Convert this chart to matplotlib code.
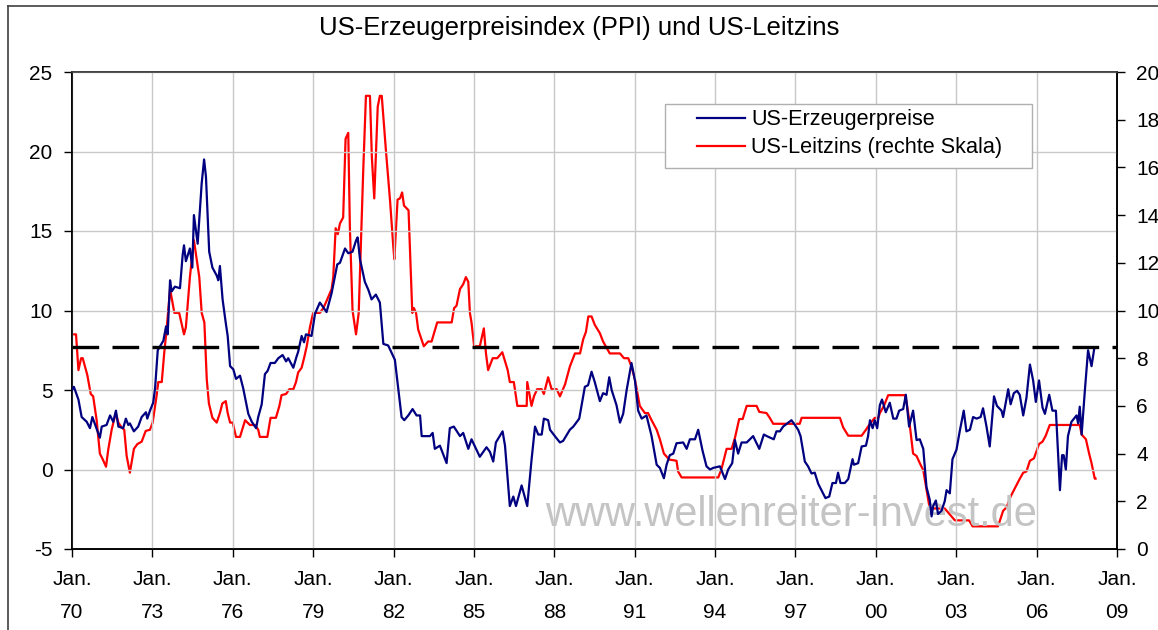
import matplotlib.pyplot as plt
from matplotlib.lines import Line2D
from matplotlib.patches import Rectangle

plt.rcParams['font.family'] = ['Liberation Sans', 'DejaVu Sans']
plt.rcParams['axes.unicode_minus'] = False

# US-Erzeugerpreise (PPI, Veränderung zum Vorjahr in %), linke Skala
ppi_dates = [1970.00, 1970.07, 1970.24, 1970.36, 1970.55, 1970.67, 1970.76, 1971.04, 1971.11, 1971.29,
             1971.42, 1971.54, 1971.64, 1971.73, 1971.91, 1972.01, 1972.10, 1972.16, 1972.31, 1972.47,
             1972.60, 1972.76, 1972.81, 1972.91, 1973.03, 1973.10, 1973.20, 1973.41, 1973.51, 1973.57,
             1973.66, 1973.72, 1973.84, 1974.03, 1974.13, 1974.18, 1974.25, 1974.40, 1974.49, 1974.55,
             1974.69, 1974.84, 1974.93, 1975.00, 1975.12, 1975.24, 1975.40, 1975.46, 1975.52, 1975.62,
             1975.74, 1975.81, 1975.90, 1976.02, 1976.12, 1976.27, 1976.39, 1976.58, 1976.71, 1976.87,
             1976.95, 1977.08, 1977.20, 1977.30, 1977.41, 1977.57, 1977.70, 1977.86, 1977.99, 1978.07,
             1978.26, 1978.38, 1978.44, 1978.57, 1978.66, 1978.73, 1978.94, 1979.07, 1979.25, 1979.38,
             1979.50, 1979.69, 1979.90, 1980.00, 1980.19, 1980.31, 1980.47, 1980.60, 1980.66, 1980.75,
             1980.93, 1981.06, 1981.18, 1981.34, 1981.49, 1981.62, 1981.80, 1982.05, 1982.18, 1982.30,
             1982.40, 1982.55, 1982.71, 1982.86, 1982.99, 1983.05, 1983.24, 1983.36, 1983.46, 1983.54,
             1983.73, 1983.98, 1984.10, 1984.25, 1984.48, 1984.60, 1984.79, 1984.91, 1985.22, 1985.47,
             1985.60, 1985.72, 1985.82, 1986.07, 1986.16, 1986.34, 1986.47, 1986.57, 1986.78, 1986.99,
             1987.15, 1987.28, 1987.40, 1987.53, 1987.61, 1987.77, 1987.84, 1988.02, 1988.21, 1988.33,
             1988.58, 1988.71, 1988.93, 1989.14, 1989.26, 1989.39, 1989.51, 1989.70, 1989.82, 1989.95,
             1990.05, 1990.14, 1990.32, 1990.45, 1990.57, 1990.70, 1990.88, 1991.01, 1991.13, 1991.26,
             1991.44, 1991.63, 1991.82, 1991.94, 1992.09, 1992.19, 1992.31, 1992.44, 1992.56, 1992.81,
             1992.94, 1993.06, 1993.25, 1993.37, 1993.53, 1993.68, 1993.81, 1993.93, 1994.18, 1994.37,
             1994.49, 1994.64, 1994.74, 1994.86, 1994.99, 1995.18, 1995.42, 1995.65, 1995.82, 1995.93,
             1996.19, 1996.29, 1996.42, 1996.54, 1996.85, 1996.98, 1997.10, 1997.19, 1997.35, 1997.47,
             1997.60, 1997.72, 1997.85, 1997.97, 1998.12, 1998.26, 1998.38, 1998.51, 1998.59, 1998.68,
             1998.84, 1998.97, 1999.13, 1999.18, 1999.34, 1999.47, 1999.63, 1999.71, 1999.78, 1999.88,
             1999.96, 2000.05, 2000.15, 2000.23, 2000.37, 2000.52, 2000.65, 2000.77, 2000.87, 2001.02,
             2001.12, 2001.24, 2001.39, 2001.52, 2001.64, 2001.77, 2001.89, 2002.01, 2002.08, 2002.14,
             2002.24, 2002.32, 2002.45, 2002.57, 2002.64, 2002.76, 2002.86, 2003.01, 2003.13, 2003.28,
             2003.38, 2003.51, 2003.63, 2003.76, 2003.91, 2004.00, 2004.13, 2004.25, 2004.41, 2004.52,
             2004.69, 2004.75, 2004.94, 2005.03, 2005.15, 2005.27, 2005.37, 2005.50, 2005.62, 2005.75,
             2005.87, 2005.97, 2006.09, 2006.22, 2006.31, 2006.47, 2006.59, 2006.72, 2006.87, 2006.95,
             2007.01, 2007.09, 2007.17, 2007.30, 2007.49, 2007.55, 2007.61, 2007.68, 2007.80, 2007.92,
             2008.05, 2008.15]
ppi_values = [5.0, 5.2, 4.4, 3.3, 3.0, 2.6, 3.3, 2.0, 2.7, 2.8,
              3.4, 3.0, 3.7, 2.7, 2.6, 3.2, 2.8, 2.9, 2.4, 2.7,
              3.3, 3.6, 3.2, 3.7, 4.2, 5.1, 7.5, 8.1, 9.0, 8.5,
              11.9, 11.2, 11.5, 11.4, 13.5, 14.1, 13.1, 13.9, 12.7, 16.0,
              14.2, 18.0, 19.5, 18.4, 13.7, 12.7, 12.2, 11.9, 12.8, 10.7,
              9.2, 8.4, 6.5, 6.3, 5.7, 5.9, 5.1, 3.5, 3.0, 2.6,
              3.3, 4.1, 6.0, 6.2, 6.7, 6.7, 7.0, 7.2, 6.8, 7.0,
              6.4, 7.1, 7.4, 8.4, 8.0, 8.5, 8.4, 9.8, 10.5, 10.2,
              9.9, 11.1, 12.9, 13.0, 13.9, 13.6, 13.7, 14.4, 14.6, 13.2,
              11.8, 11.3, 10.7, 11.0, 10.5, 7.9, 7.8, 6.9, 5.0, 3.3,
              3.1, 3.4, 3.8, 3.4, 3.4, 2.1, 2.1, 2.1, 2.3, 1.3,
              1.5, 0.4, 2.6, 2.7, 2.1, 2.3, 1.3, 1.9, 0.8, 1.4,
              1.1, 0.5, 1.7, 2.4, 1.5, -2.3, -1.7, -2.3, -1.0, -2.3,
              0.6, 2.7, 2.2, 2.2, 3.2, 3.1, 2.5, 2.1, 1.7, 1.8,
              2.5, 2.7, 3.2, 5.2, 5.3, 6.15, 5.5, 4.3, 4.8, 4.7,
              5.8, 5.0, 4.05, 2.95, 3.5, 5.0, 6.7, 5.6, 3.7, 3.2,
              3.4, 2.1, 0.3, 0.1, -0.55, 0.3, 0.9, 1.0, 1.65, 1.7,
              1.3, 1.9, 1.9, 2.5, 1.2, 0.2, 0.0, 0.1, 0.2, -0.6,
              0.0, 0.4, 1.85, 1.0, 1.7, 1.7, 2.1, 1.3, 2.2, 2.1,
              1.9, 2.4, 2.4, 2.7, 3.1, 2.8, 2.5, 2.1, 0.5, 0.2,
              -0.25, -0.2, -0.9, -1.3, -1.8, -1.7, -0.85, -0.85, -0.2, -0.85,
              -0.85, -0.6, 0.65, 0.3, 0.4, 1.45, 1.5, 2.1, 3.1, 2.6,
              3.1, 2.6, 4.05, 4.4, 3.6, 4.2, 3.2, 3.2, 3.7, 3.8,
              4.7, 2.7, 3.7, 1.85, 1.9, 1.3, -1.1, -1.9, -2.95, -2.3,
              -1.95, -2.8, -2.6, -2.0, -1.3, -1.5, 0.65, 1.25, 2.4, 3.7,
              2.4, 2.5, 3.3, 3.2, 3.3, 3.85, 2.7, 1.45, 4.6, 4.0,
              3.7, 3.3, 5.05, 4.1, 4.8, 4.95, 4.7, 3.4, 4.5, 6.6,
              5.6, 4.25, 5.6, 3.9, 3.5, 4.7, 3.7, 3.7, -1.3, 0.9,
              0.9, 0.0, 2.1, 3.0, 3.4, 2.9, 3.95, 2.2, 4.95, 7.5,
              6.5, 7.6]

# US-Leitzins in %, rechte Skala
rate_dates = [1970.00, 1970.15, 1970.24, 1970.34, 1970.40, 1970.57, 1970.70, 1970.79, 1970.92, 1971.04,
              1971.13, 1971.27, 1971.35, 1971.48, 1971.63, 1971.73, 1971.85, 1971.95, 1972.04, 1972.16,
              1972.31, 1972.44, 1972.60, 1972.75, 1972.91, 1973.01, 1973.16, 1973.22, 1973.35, 1973.44,
              1973.53, 1973.66, 1973.82, 1974.00, 1974.18, 1974.25, 1974.40, 1974.55, 1974.75, 1974.84,
              1974.94, 1975.03, 1975.11, 1975.24, 1975.40, 1975.52, 1975.61, 1975.74, 1975.81, 1975.90,
              1976.00, 1976.12, 1976.27, 1976.46, 1976.64, 1976.83, 1976.95, 1977.01, 1977.29, 1977.41,
              1977.61, 1977.74, 1977.82, 1977.99, 1978.11, 1978.26, 1978.36, 1978.44, 1978.57, 1978.66,
              1978.76, 1978.88, 1979.00, 1979.25, 1979.38, 1979.50, 1979.69, 1979.75, 1979.84, 1979.92,
              1980.00, 1980.12, 1980.21, 1980.31, 1980.37, 1980.47, 1980.60, 1980.70, 1980.78, 1980.87,
              1980.97, 1981.12, 1981.19, 1981.28, 1981.41, 1981.49, 1981.56, 1981.72, 1981.87, 1981.99,
              1982.03, 1982.15, 1982.24, 1982.32, 1982.39, 1982.56, 1982.64, 1982.70, 1982.76, 1982.84,
              1982.92, 1983.13, 1983.29, 1983.42, 1983.63, 1983.85, 1984.17, 1984.26, 1984.35, 1984.48,
              1984.60, 1984.70, 1984.79, 1984.85, 1984.91, 1985.01, 1985.22, 1985.37, 1985.45, 1985.53,
              1985.70, 1985.87, 1986.06, 1986.26, 1986.34, 1986.49, 1986.62, 1986.97, 1986.99, 1987.15,
              1987.24, 1987.36, 1987.53, 1987.61, 1987.77, 1987.90, 1988.09, 1988.21, 1988.40, 1988.58,
              1988.77, 1988.96, 1989.08, 1989.18, 1989.27, 1989.39, 1989.51, 1989.70, 1989.82, 1989.97,
              1990.07, 1990.45, 1990.60, 1990.76, 1990.88, 1991.01, 1991.19, 1991.38, 1991.50, 1991.63,
              1991.82, 1991.94, 1992.09, 1992.29, 1992.56, 1992.62, 1992.75, 1994.12, 1994.25, 1994.43,
              1994.62, 1994.74, 1994.90, 1995.03, 1995.18, 1995.55, 1995.65, 1995.92, 1996.04, 1996.17,
              1997.16, 1997.23, 1998.66, 1998.78, 1998.97, 1999.47, 1999.63, 1999.78, 1999.96, 2000.09,
              2000.15, 2000.30, 2000.46, 2001.08, 2001.14, 2001.24, 2001.39, 2001.52, 2001.64, 2001.77,
              2001.89, 2002.01, 2002.57, 2002.95, 2003.48, 2003.61, 2004.56, 2004.75, 2004.88, 2005.03,
              2005.19, 2005.35, 2005.50, 2005.62, 2005.75, 2005.90, 2006.09, 2006.22, 2006.34, 2006.49,
              2007.61, 2007.68, 2007.84, 2007.96, 2008.05, 2008.17, 2008.20]
rate_values = [9.0, 9.0, 7.5, 8.0, 8.0, 7.3, 6.5, 6.4, 5.4, 4.0,
               3.8, 3.45, 4.15, 5.0, 5.7, 5.3, 5.1, 5.0, 3.9, 3.2,
               4.2, 4.4, 4.5, 4.95, 5.0, 5.3, 6.45, 7.0, 7.0, 8.2,
               9.2, 10.9, 9.9, 9.9, 9.0, 9.3, 11.4, 12.95, 11.4, 9.9,
               9.5, 7.1, 6.1, 5.5, 5.3, 5.7, 6.1, 6.2, 5.7, 5.3,
               5.3, 4.7, 4.7, 5.4, 5.2, 5.2, 5.0, 4.7, 4.7, 5.5,
               5.5, 6.0, 6.45, 6.5, 6.7, 6.7, 7.0, 7.4, 7.6, 8.0,
               8.5, 9.3, 9.9, 9.9, 10.1, 10.4, 10.9, 11.4, 13.45, 13.2,
               13.65, 13.9, 17.2, 17.45, 13.5, 10.0, 9.0, 9.9, 12.7, 15.9,
               19.0, 19.0, 16.45, 14.7, 18.55, 19.0, 19.0, 16.65, 14.6, 12.7,
               12.15, 14.65, 14.7, 14.95, 14.4, 14.2, 11.8, 9.9, 10.1, 9.9,
               9.2, 8.5, 8.7, 8.7, 9.5, 9.5, 9.5, 10.1, 10.2, 10.9,
               11.1, 11.4, 11.2, 9.9, 9.5, 8.5, 8.5, 9.25, 8.2, 7.5,
               8.0, 8.0, 8.25, 7.5, 7.0, 7.0, 6.0, 6.0, 7.0, 6.0,
               6.4, 6.7, 6.7, 6.5, 7.2, 6.7, 6.7, 6.4, 6.9, 7.65,
               8.2, 8.2, 8.8, 9.1, 9.75, 9.75, 9.4, 9.05, 8.7, 8.4,
               8.2, 8.2, 8.0, 8.0, 7.65, 7.1, 6.0, 5.7, 5.7, 5.4,
               5.0, 4.6, 4.0, 3.75, 3.7, 3.25, 3.0, 3.0, 3.4, 4.2,
               4.2, 4.65, 5.45, 5.45, 6.0, 6.0, 5.75, 5.7, 5.5, 5.25,
               5.25, 5.5, 5.5, 5.1, 4.75, 4.75, 5.0, 5.25, 5.5, 5.5,
               5.7, 6.0, 6.45, 6.45, 6.2, 5.45, 4.0, 3.9, 3.6, 3.3,
               2.5, 1.7, 1.7, 1.2, 1.2, 0.95, 0.95, 1.6, 1.75, 2.2,
               2.55, 2.9, 3.2, 3.25, 3.7, 3.8, 4.4, 4.5, 4.75, 5.2,
               5.2, 4.8, 4.6, 4.0, 3.6, 2.95, 2.95]

ppi_threshold = 7.7
x_ticks = list(range(1970, 2010, 3))
x_labels = ["Jan.\n%02d" % (y % 100) for y in x_ticks]

fig = plt.figure(figsize=(11.58, 6.3), dpi=100)
ax1 = fig.add_axes([72 / 1158, 1 - 549 / 630, 1045 / 1158, 477 / 630])
ax2 = ax1.twinx()

# Rahmen um das Diagramm (wie im Excel-Chart)
fig.add_artist(Line2D([8 / 1158, 8 / 1158], [0, 1 - 6 / 630], color='#404040', lw=1.2))
fig.add_artist(Line2D([8 / 1158, 1], [1 - 6 / 630, 1 - 6 / 630], color='#404040', lw=1.2))

ax1.text(0.688, 0.071, "www.wellenreiter-invest.de", transform=ax1.transAxes,
         fontsize=30, color='#c4c4c4', ha='center', va='center', zorder=1)

ax1.plot(ppi_dates, ppi_values, color='#000080', lw=1.6, zorder=3)
ax1.axhline(ppi_threshold, color='black', lw=2.4, dashes=(8, 4), zorder=5)
ax2.plot(rate_dates, rate_values, color='#ff0000', lw=1.6, zorder=3)

ax1.set_xlim(1970, 2009)
ax1.set_ylim(-5, 25)
ax2.set_ylim(0, 20)
ax1.set_xticks(x_ticks)
ax1.set_xticklabels(x_labels, linespacing=1.95)
ax1.set_yticks(range(-5, 26, 5))
ax2.set_yticks(range(0, 21, 2))

ax1.grid(True, color='#c8c8c8', lw=1)
ax1.set_axisbelow(True)

for ax in (ax1, ax2):
    ax.tick_params(labelsize=15, length=6, width=1, direction='out', pad=8)
    for s in ax.spines.values():
        s.set_linewidth(1.2)
    ax.spines['top'].set_color('#404040')
ax1.tick_params(axis='x', pad=9)

ax1.set_zorder(ax2.get_zorder() + 1)
ax1.patch.set_visible(False)

# Legende: Rahmen separat, damit die Innenabstände wie im Original sind
ax1.add_patch(Rectangle((0.5675, 0.7987), 0.3512, 0.1342, transform=ax1.transAxes,
                        facecolor='white', edgecolor='#b0b0b0', lw=1, zorder=9))
handles = [Line2D([], [], color='#000080', lw=1.6), Line2D([], [], color='#ff0000', lw=1.6)]
leg = ax1.legend(handles, ["US-Erzeugerpreise", "US-Leitzins (rechte Skala)"],
                 loc='upper left', bbox_to_anchor=(0.598, 0.922), fontsize=15.6,
                 frameon=False, handlelength=2.2, borderpad=0, borderaxespad=0,
                 labelspacing=0.32, handletextpad=0.3)
leg.set_zorder(10)

fig.text(0.5, 1 - 28 / 630, "US-Erzeugerpreisindex (PPI) und US-Leitzins",
         ha='center', va='center', fontsize=18.5)

fig.savefig("out.png", dpi=100)
